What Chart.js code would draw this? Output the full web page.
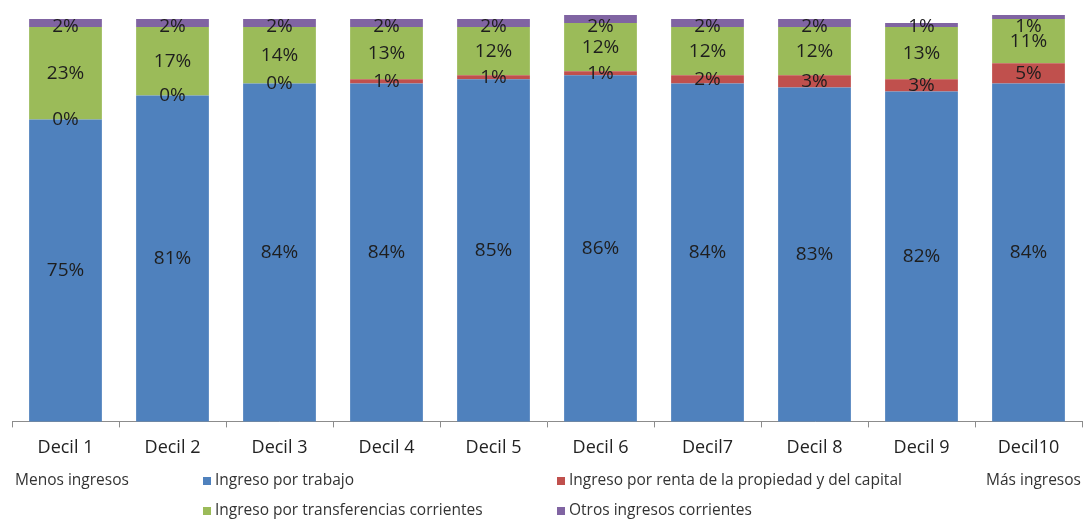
<!DOCTYPE html>
<html>
<head>
<meta charset="utf-8">
<script src="https://cdn.jsdelivr.net/npm/chart.js@4"></script>
<style>
  html, body { margin: 0; padding: 0; background: #fff; }
  #wrap { position: relative; width: 1086px; height: 520px; }
</style>
</head>
<body>
<div id="wrap"><canvas id="deciles"></canvas></div>
<script>
// Composición del ingreso corriente por decil (%)
const deciles = ['Decil 1', 'Decil 2', 'Decil 3', 'Decil 4', 'Decil 5', 'Decil 6', 'Decil7', 'Decil 8', 'Decil 9', 'Decil10'];
const trabajo = [75, 81, 84, 84, 85, 86, 84, 83, 82, 84];
const renta = [0, 0, 0, 1, 1, 1, 2, 3, 3, 5];
const transferencias = [23, 17, 14, 13, 12, 12, 12, 12, 13, 11];
const otros = [2, 2, 2, 2, 2, 2, 2, 2, 1, 1];

const FONT = "'Open Sans', 'DejaVu Sans', sans-serif";

// Etiquetas de porcentaje en el centro de cada segmento
const segmentLabels = {
    id: 'segmentLabels',
    afterDatasetsDraw(chart) {
        const ctx = chart.ctx;
        ctx.save();
        ctx.font = '19px ' + FONT;
        ctx.fillStyle = '#1e1e1e';
        ctx.textAlign = 'center';
        ctx.textBaseline = 'middle';
        chart.data.datasets.forEach((ds, i) => {
            chart.getDatasetMeta(i).data.forEach((bar, j) => {
                const y = Math.max((bar.y + bar.base) / 2, chart.chartArea.top + 8);
                ctx.fillText(ds.data[j] + '%', bar.x, y);
            });
        });
        ctx.restore();
    }
};

// Leyenda en dos filas con los extremos "Menos / Más ingresos"
const bottomLegend = {
    id: 'bottomLegend',
    afterDraw(chart) {
        const ctx = chart.ctx;
        const ds = chart.data.datasets;
        ctx.save();
        ctx.font = '15.5px ' + FONT;
        ctx.fillStyle = '#333';
        ctx.textBaseline = 'middle';
        ctx.fillText('Menos ingresos', 15, 481);
        ctx.fillText('Más ingresos', 986, 481);
        const slots = [[203, 481], [557, 481], [203, 511], [557, 511]];
        ds.forEach((d, i) => {
            const [x, y] = slots[i];
            ctx.fillStyle = d.backgroundColor;
            ctx.fillRect(x, y - 4, 8, 8);
            ctx.fillStyle = '#333';
            ctx.fillText(d.label, x + 12, y);
        });
        ctx.restore();
    }
};

new Chart(document.getElementById('deciles'), {
    type: 'bar',
    data: {
        labels: deciles,
        datasets: [
            { label: 'Ingreso por trabajo', data: trabajo, backgroundColor: '#4f81bd', clip: false },
            { label: 'Ingreso por renta de la propiedad y del capital', data: renta, backgroundColor: '#c0504d', clip: false },
            { label: 'Ingreso por transferencias corrientes', data: transferencias, backgroundColor: '#9bbb59', clip: false },
            { label: 'Otros ingresos corrientes', data: otros, backgroundColor: '#8064a2', clip: false }
        ]
    },
    options: {
        responsive: true,
        maintainAspectRatio: false,
        animation: false,
        categoryPercentage: 1,
        barPercentage: 0.68,
        layout: { padding: { left: 12, right: 4, top: 19, bottom: 51 } },
        plugins: {
            legend: { display: false },
            tooltip: { enabled: false }
        },
        scales: {
            x: {
                stacked: true,
                grid: {
                    drawOnChartArea: false,
                    color: '#8c8c8c',
                    tickLength: 6
                },
                border: { color: '#8c8c8c' },
                ticks: {
                    color: '#222',
                    padding: 10,
                    font: { family: FONT, size: 18 }
                }
            },
            y: {
                stacked: true,
                display: false,
                min: 0,
                max: 100
            }
        }
    },
    plugins: [segmentLabels, bottomLegend]
});
</script>
</body>
</html>
